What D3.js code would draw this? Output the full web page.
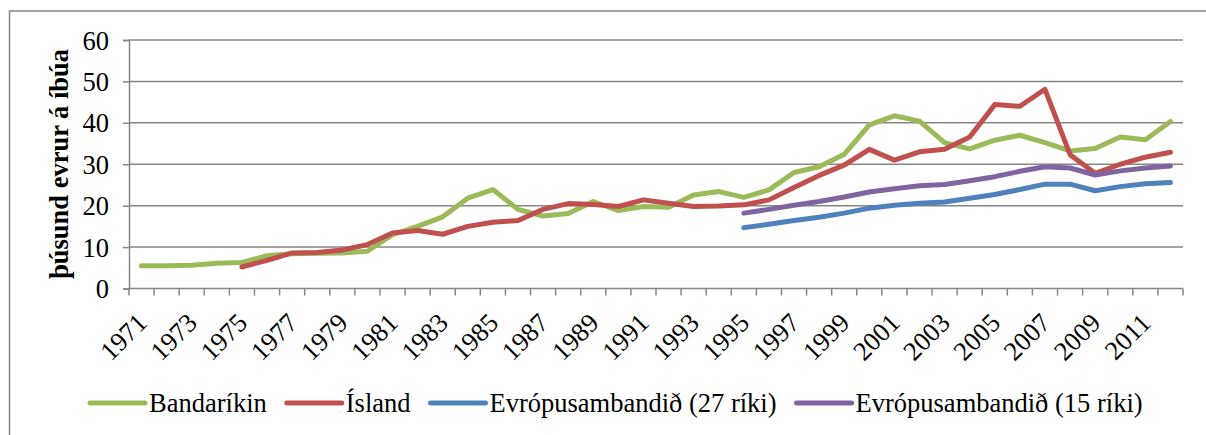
<!DOCTYPE html>
<html>
<head>
<meta charset="utf-8">
<script src="https://cdn.jsdelivr.net/npm/d3@7"></script>
<style>
  html, body { margin: 0; padding: 0; background: #fff; }
  svg { display: block; }
  svg text { font-family: "Liberation Serif", "Times New Roman", serif; }
</style>
</head>
<body>
<svg id="chart" width="1206" height="435"></svg>
<script>
const years = [1971,1972,1973,1974,1975,1976,1977,1978,1979,1980,1981,1982,1983,1984,1985,1986,1987,1988,1989,1990,1991,1992,1993,1994,1995,1996,1997,1998,1999,2000,2001,2002,2003,2004,2005,2006,2007,2008,2009,2010,2011,2012];

const bandarikin = [5.5,5.5,5.6,6.1,6.3,7.9,8.4,8.5,8.6,9.0,13.0,15.0,17.3,21.8,23.9,19.1,17.5,18.1,21.0,18.8,19.8,19.6,22.6,23.4,22.0,23.8,28.0,29.4,32.4,39.5,41.7,40.4,35.2,33.7,35.8,37.0,35.2,33.2,33.8,36.6,35.9,40.3];
const island = [null,null,null,null,5.2,6.8,8.6,8.7,9.3,10.6,13.4,14.0,13.1,15.0,16.0,16.4,19.1,20.5,20.3,19.8,21.4,20.6,19.8,19.9,20.2,21.4,24.4,27.3,29.8,33.6,31.0,33.0,33.6,36.6,44.4,44.0,48.1,32.3,27.8,30.0,31.7,32.9];
const eu27 = [null,null,null,null,null,null,null,null,null,null,null,null,null,null,null,null,null,null,null,null,null,null,null,null,14.7,15.5,16.4,17.2,18.2,19.4,20.1,20.6,20.9,21.8,22.7,23.9,25.2,25.2,23.6,24.6,25.3,25.6];
const eu15 = [null,null,null,null,null,null,null,null,null,null,null,null,null,null,null,null,null,null,null,null,null,null,null,null,18.2,19.1,20.1,21.0,22.1,23.3,24.1,24.8,25.1,26.0,27.0,28.3,29.4,29.1,27.4,28.4,29.1,29.6];

const seriesNames = ["Bandaríkin", "Ísland", "Evrópusambandið (27 ríki)", "Evrópusambandið (15 ríki)"];
const seriesColors = ["#9BBB59", "#C0504D", "#4F81BD", "#8064A2"];
const yTicks = [0,10,20,30,40,50,60];
const xTickLabels = [1971,1973,1975,1977,1979,1981,1983,1985,1987,1989,1991,1993,1995,1997,1999,2001,2003,2005,2007,2009,2011];
const yTitle = "þúsund evrur á íbúa";

const svg = d3.select("#chart");
const gridColor = "#868686";
const fontSize = 26.5;
const serif = "Liberation Serif, Times New Roman, serif";

// outer chart frame (extends beyond the visible area on right/bottom)
svg.append("rect").attr("x", 9.5).attr("y", 11).attr("width", 1300).attr("height", 500)
  .attr("fill", "#fff").attr("stroke", gridColor).attr("stroke-width", 1.5);

const x = d3.scaleBand().domain(years).range([129, 1183]).padding(0);
const y = d3.scaleLinear().domain([0, 60]).range([288.5, 40]);

// gridlines
svg.append("g").selectAll("line").data(yTicks.filter(d => d > 0)).join("line")
  .attr("x1", 129).attr("x2", 1183)
  .attr("y1", d => y(d)).attr("y2", d => y(d))
  .attr("stroke", gridColor).attr("stroke-width", 1.5);

// y axis
const yAxis = svg.append("g").attr("transform", "translate(129,0)")
  .call(d3.axisLeft(y).tickValues(yTicks).tickSize(6).tickPadding(14).tickFormat(d3.format("d")));
yAxis.attr("font-family", serif);
yAxis.select(".domain").attr("stroke", gridColor).attr("stroke-width", 1.5);
yAxis.selectAll(".tick line").attr("stroke", gridColor).attr("stroke-width", 1.5);
yAxis.selectAll(".tick text").attr("font-size", fontSize).attr("font-family", serif).attr("fill", "#000").attr("dy", "0.34em");

// x axis (ticks at category boundaries)
const xg = svg.append("g");
xg.append("line").attr("x1", 129).attr("x2", 1183).attr("y1", y(0)).attr("y2", y(0))
  .attr("stroke", gridColor).attr("stroke-width", 1.5);
const boundaries = years.map(d => x(d)).concat([x(years[years.length-1]) + x.bandwidth()]);
xg.selectAll("line.tk").data(boundaries).join("line").attr("class", "tk")
  .attr("x1", d => d).attr("x2", d => d).attr("y1", y(0)).attr("y2", y(0) + 7)
  .attr("stroke", gridColor).attr("stroke-width", 1.5);
xg.selectAll("text").data(xTickLabels).join("text")
  .attr("transform", d => `translate(${x(d) + x.bandwidth()/2 + 7},${y(0) + 36}) rotate(-45)`)
  .attr("text-anchor", "end")
  .attr("font-family", serif)
  .attr("font-size", fontSize)
  .attr("fill", "#000")
  .text(d => d);

// y title
svg.append("text")
  .attr("transform", "translate(68,164) rotate(-90)")
  .attr("text-anchor", "middle")
  .attr("font-family", serif)
  .attr("font-size", fontSize)
  .attr("font-weight", "bold")
  .attr("fill", "#000")
  .text(yTitle);

// lines
const allSeries = [bandarikin, island, eu27, eu15];
const line = d3.line()
  .defined(d => d.v !== null)
  .x(d => x(d.year) + x.bandwidth()/2)
  .y(d => y(d.v));
allSeries.forEach((s, i) => {
  svg.append("path")
    .datum(years.map((yr, j) => ({year: yr, v: s[j]})))
    .attr("d", line)
    .attr("fill", "none")
    .attr("stroke", seriesColors[i])
    .attr("stroke-width", 5)
    .attr("stroke-linecap", "round")
    .attr("stroke-linejoin", "round");
});

// legend
const lg = svg.append("g");
let lx = 90;
const ly = 403;
seriesNames.forEach((name, i) => {
  lg.append("line").attr("x1", lx).attr("x2", lx + 55).attr("y1", ly).attr("y2", ly)
    .attr("stroke", seriesColors[i]).attr("stroke-width", 5).attr("stroke-linecap", "round");
  const t = lg.append("text").attr("x", lx + 59).attr("y", ly + 8.5)
    .attr("font-family", serif)
    .attr("font-size", fontSize).attr("fill", "#000").text(name);
  lx = lx + 59 + t.node().getComputedTextLength() + 20;
});
</script>
</body>
</html>
